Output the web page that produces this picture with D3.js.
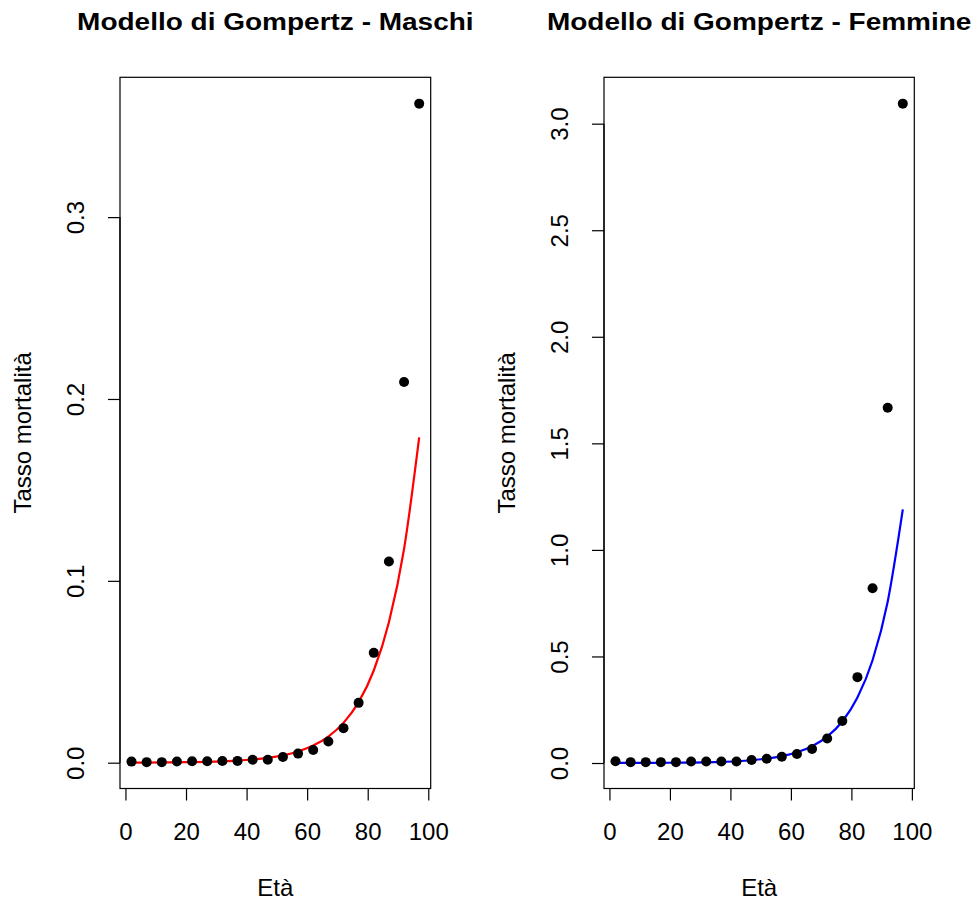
<!DOCTYPE html>
<html>
<head>
<meta charset="utf-8">
<script src="https://cdn.jsdelivr.net/npm/d3@7"></script>
<style>
  body { margin: 0; background: #fff; }
  text { font-family: "Liberation Sans", Arial, sans-serif; fill: #000; }
</style>
</head>
<body>
<svg id="chart" width="976" height="901"></svg>
<script>
// Age classes (midpoints of the 5-year groups)
const ages = [2, 7, 12, 17, 22, 27, 32, 37, 42, 47, 52, 57, 62, 67, 72, 77, 82, 87, 92, 97];

// Observed mortality rates - males
const maschiOss = [0.0006, 0.0003, 0.0003, 0.0007, 0.0008, 0.0008, 0.0009, 0.0010, 0.0016, 0.0016,
                   0.0031, 0.0050, 0.0070, 0.0117, 0.0190, 0.0329, 0.0604, 0.1106, 0.2093, 0.3624];
// Fitted Gompertz curve - males
const maschiFit = [0.00006, 0.00009, 0.00014, 0.00021, 0.00033, 0.00050, 0.00076, 0.00115, 0.00176, 0.00267,
                   0.00407, 0.0062, 0.00944, 0.0144, 0.0219, 0.0333, 0.0507, 0.0772, 0.1175, 0.1789];

// Observed mortality rates - females
const femmineOss = [0.008, 0.004, 0.004, 0.004, 0.004, 0.007, 0.007, 0.007, 0.007, 0.014,
                    0.020, 0.029, 0.042, 0.066, 0.115, 0.197, 0.403, 0.820, 1.667, 3.094];
// Fitted Gompertz curve - females
const femmineFit = [0.0002, 0.0004, 0.0006, 0.0009, 0.0014, 0.0021, 0.0033, 0.0052, 0.0082, 0.0130,
                    0.0204, 0.032, 0.0503, 0.079, 0.124, 0.195, 0.307, 0.482, 0.757, 1.19];

// Tick values
const xTicks = [0, 20, 40, 60, 80, 100];
const yTicksMaschi = [0, 0.1, 0.2, 0.3];
const yTicksFemmine = [0, 0.5, 1.0, 1.5, 2.0, 2.5, 3.0];

const svg = d3.select("#chart");

// R-like range: data extent padded by 4% on both sides
function rRange(values) {
    const [lo, hi] = d3.extent(values);
    const pad = (hi - lo) * 0.04;
    return [lo - pad, hi + pad];
}

function drawPanel(opts) {
    const box = opts.box; // left, right, top, bottom in pixels
    const g = svg.append("g");

    const x = d3.scaleLinear().domain(rRange(ages)).range([box.left, box.right]);
    const y = d3.scaleLinear().domain(rRange(opts.obs)).range([box.bottom, box.top]);

    // Plot box
    g.append("rect")
        .attr("x", box.left)
        .attr("y", box.top)
        .attr("width", box.right - box.left)
        .attr("height", box.bottom - box.top)
        .attr("fill", "none")
        .attr("stroke", "#000")
        .attr("stroke-width", 1.2);

    // Bottom axis
    const xAxis = g.append("g")
        .attr("transform", `translate(0,${box.bottom})`)
        .call(d3.axisBottom(x).tickValues(xTicks).tickSize(12).tickFormat(d3.format("d")));
    xAxis.select(".domain").attr("d", `M${x(xTicks[0])},0H${x(xTicks[xTicks.length - 1])}`);

    // Left axis (labels rotated as in R)
    const yAxis = g.append("g")
        .attr("transform", `translate(${box.left},0)`)
        .call(d3.axisLeft(y).tickValues(opts.yTicks).tickSize(12).tickFormat(d3.format(".1f")));
    yAxis.select(".domain").attr("d", `M0,${y(opts.yTicks[0])}V${y(opts.yTicks[opts.yTicks.length - 1])}`);
    yAxis.selectAll(".tick text")
        .attr("x", null).attr("dy", null)
        .attr("text-anchor", "middle")
        .attr("transform", "translate(-36,0) rotate(-90)");

    [xAxis, yAxis].forEach(a => {
        a.selectAll("path, line").attr("stroke", "#000").attr("stroke-width", 1.2);
        a.selectAll("text").style("font-size", "24px").attr("fill", "#000");
    });
    xAxis.selectAll(".tick text").attr("dy", "0.71em").attr("y", 34);

    // Fitted curve
    const line = d3.line()
        .x((d, i) => x(ages[i]))
        .y(d => y(d))
        .curve(d3.curveMonotoneX);
    g.append("path")
        .datum(opts.fit)
        .attr("d", line)
        .attr("fill", "none")
        .attr("stroke", opts.color)
        .attr("stroke-width", 2.2);

    // Observed points
    g.selectAll(".pt")
        .data(opts.obs)
        .enter()
        .append("circle")
        .attr("class", "pt")
        .attr("cx", (d, i) => x(ages[i]))
        .attr("cy", d => y(d))
        .attr("r", 5)
        .attr("fill", "#000");

    const cx = (box.left + box.right) / 2;
    const cy = (box.top + box.bottom) / 2;

    // Title
    g.append("text")
        .attr("transform", `translate(${cx},30) scale(1,0.87)`)
        .attr("text-anchor", "middle")
        .style("font-size", "28px")
        .style("font-weight", "bold")
        .text(opts.title);

    // Axis titles
    g.append("text")
        .attr("x", cx)
        .attr("y", 896)
        .attr("text-anchor", "middle")
        .style("font-size", "24px")
        .text("Età");

    g.append("text")
        .attr("transform", `translate(${box.left - 89},${cy}) rotate(-90)`)
        .attr("text-anchor", "middle")
        .style("font-size", "24px")
        .text("Tasso mortalità");
}

drawPanel({
    title: "Modello di Gompertz - Maschi",
    box: { left: 120, right: 430.7, top: 77.3, bottom: 788.5 },
    obs: maschiOss,
    fit: maschiFit,
    yTicks: yTicksMaschi,
    color: "#ff0000"
});

drawPanel({
    title: "Modello di Gompertz - Femmine",
    box: { left: 604, right: 914.3, top: 77.3, bottom: 788.5 },
    obs: femmineOss,
    fit: femmineFit,
    yTicks: yTicksFemmine,
    color: "#0000ff"
});
</script>
</body>
</html>
